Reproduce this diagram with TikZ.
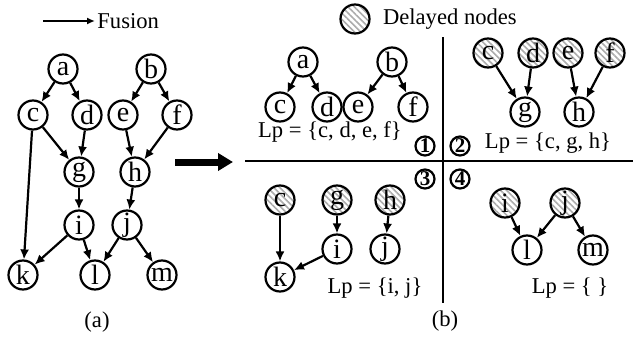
\documentclass[tikz,border=0pt]{standalone}
\usepackage{fontspec}
\setmainfont{Liberation Serif}
\usetikzlibrary{arrows.meta,patterns.meta}
\tikzset{
  vtx/.style={circle,draw,line width=1.1pt,minimum size=14.5pt,inner sep=0pt,font=\fontsize{14}{14}\selectfont},
  late/.style={vtx,pattern={Lines[angle=-45,distance=2.2pt,line width=0.8pt]},pattern color=gray!65},
  dep/.style={line width=1.1pt,-{Latex[length=5pt,width=4.5pt]}},
  quad/.style={circle,draw,line width=1.1pt,minimum size=9.5pt,inner sep=0pt,font=\bfseries\fontsize{10.5}{10.5}\selectfont},
  lbl/.style={font=\fontsize{11.3}{13}\selectfont}
}
\begin{document}
\begin{tikzpicture}[x=0.5pt,y=-0.5pt]
    \useasboundingbox (0,0) rectangle (633,337);
    % legend
    \coordinate (fs) at (43,21);
    \coordinate (fe) at (95,21);
    \draw[line width=0.9pt,-{Latex[length=4pt,width=3.5pt]}] (fs) -- (fe);
    \node[lbl,anchor=west,inner sep=1pt] (fusion) at (fe) {Fusion};
    \node[late] (dly) at (355,19) {};
    \node[lbl,anchor=west] (dlytext) at (376,19) {Delayed nodes};
    % (a) original graph
    \node[vtx] (a) at (63,69) {a};
    \node[vtx] (b) at (151,69) {b};
    \node[vtx] (c) at (33,115) {c};
    \node[vtx] (d) at (87,115) {d};
    \node[vtx] (e) at (123,115) {e};
    \node[vtx] (f) at (177,115) {f};
    \node[vtx] (g) at (79,172) {g};
    \node[vtx] (h) at (135,172) {h};
    \node[vtx] (i) at (79,225) {i};
    \node[vtx] (j) at (127,225) {j};
    \node[vtx] (k) at (23,275) {k};
    \node[vtx] (l) at (95,275) {l};
    \node[vtx] (m) at (162,275) {m};
    \foreach \s/\t in {a/c,a/d,b/e,b/f,c/g,d/g,e/h,f/h,c/k,g/i,h/j,i/k,i/l,j/l,j/m}
      \draw[dep] (\s) -- (\t);
    \node[lbl] (capa) at (97,322) {(a)};
    % big arrow
    \coordinate (as) at (175,162);
    \coordinate (ae) at (233,162);
    \draw[line width=3.5pt,-{Triangle[length=7.5pt,width=8.5pt]}] (as) -- (ae);
    % quadrant lines
    \draw[line width=1.4pt] (443,37) -- (443,303);
    \draw[line width=1.4pt] (245,161) -- (633,161);
    \node[quad] (n1) at (425,146) {1};
    \node[quad] (n2) at (460,146) {2};
    \node[quad] (n3) at (425,179) {3};
    \node[quad] (n4) at (460,179) {4};
    % step 1
    \node[vtx] (pa) at (303,62) {a};
    \node[vtx] (pb) at (392,62) {b};
    \node[vtx] (pc) at (280,107) {c};
    \node[vtx] (pd) at (327,107) {d};
    \node[vtx] (pe) at (358,107) {e};
    \node[vtx] (pf) at (413,107) {f};
    \foreach \s/\t in {pa/pc,pa/pd,pb/pe,pb/pf}
      \draw[dep] (\s) -- (\t);
    \node[lbl] (lp1) at (330,132) {Lp = \{c, d, e, f\}};
    % step 2
    \node[late] (qc) at (488,53) {c};
    \node[late] (qd) at (533,53) {d};
    \node[late] (qe) at (568,53) {e};
    \node[late] (qf) at (610,53) {f};
    \node[vtx] (qg) at (525,112) {g};
    \node[vtx] (qh) at (579,112) {h};
    \foreach \s/\t in {qc/qg,qd/qg,qe/qh,qf/qh}
      \draw[dep] (\s) -- (\t);
    \node[lbl] (lp2) at (548,143) {Lp = \{c, g, h\}};
    % step 3
    \node[late] (rc) at (280,200) {c};
    \node[late] (rg) at (337,200) {g};
    \node[late] (rh) at (390,200) {h};
    \node[vtx] (ri) at (337,249) {i};
    \node[vtx] (rj) at (385,249) {j};
    \node[vtx] (rk) at (280,277) {k};
    \foreach \s/\t in {rc/rk,rg/ri,rh/rj,ri/rk}
      \draw[dep] (\s) -- (\t);
    \node[lbl] (lp3) at (375,288) {Lp = \{i, j\}};
    % step 4
    \node[late] (si) at (505,203) {i};
    \node[late] (sj) at (565,203) {j};
    \node[vtx] (sl) at (527,250) {l};
    \node[vtx] (sm) at (593,250) {m};
    \foreach \s/\t in {si/sl,sj/sl,sj/sm}
      \draw[dep] (\s) -- (\t);
    \node[lbl] (lp4) at (570,288) {Lp = \{ \}};
    \node[lbl] (capb) at (445,321) {(b)};
  \end{tikzpicture}
\end{document}
